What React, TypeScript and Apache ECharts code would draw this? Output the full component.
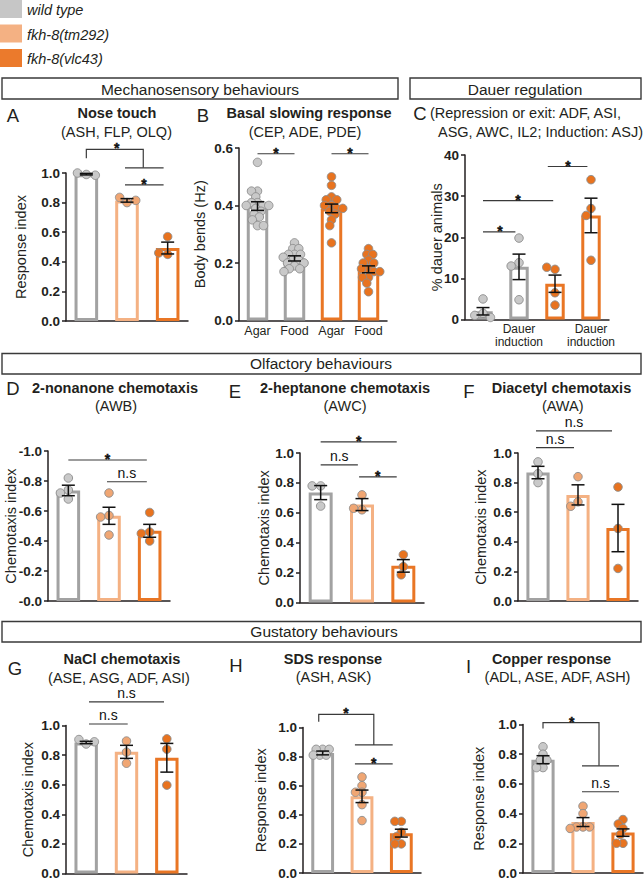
import React, { useEffect, useRef } from "react";
import * as echarts from "echarts";

const FONT = '"Liberation Sans", Arial, Helvetica, sans-serif';
const INK = "#231f20";
const SIG_INK = "#3a3a3a";

// ---------- legend ----------
const genotypeLabels = ["wild type", "fkh-8(tm292)", "fkh-8(vlc43)"];
const legendColors = ["#c6c6c6", "#f4b183", "#eb7a2c"];
const barBorderColors = ["#a2a2a2", "#f4b183", "#e97625"];
const dotColors = ["#c9c9c9", "#f0a673", "#e8731f"];

// ---------- A: Nose touch ----------
const aCategories = ["wild type", "fkh-8(tm292)", "fkh-8(vlc43)"];
const aGenotype = [0, 1, 2];
const aMeans = [0.992, 0.815, 0.493];
const aSem = [0.005, 0.012, 0.04];
const aPoints = [[0.99, 1.0, 0.985], [0.8, 0.835, 0.815], [0.57, 0.45, 0.46]];
const aSig = [
  { pts: [[0, 1.1], [0, 1.16], [1.4, 1.16], [1.4, 1.035]], label: "*", lx: 0.75, ly: 1.16 },
  { pts: [[0.95, 1.035], [1.9, 1.035]] },
  { pts: [[0.95, 0.92], [1.9, 0.92]], label: "*", lx: 1.42, ly: 0.92 },
];

// ---------- B: Basal slowing ----------
const bCategories = ["Agar", "Food", "Agar", "Food"];
const bGenotype = [0, 0, 2, 2];
const bMeans = [0.398, 0.216, 0.39, 0.178];
const bSem = [0.015, 0.009, 0.015, 0.012];
const bPoints = [
  [0.55, 0.45, 0.45, 0.43, 0.41, 0.41, 0.4, 0.4, 0.4, 0.39, 0.38, 0.37, 0.36, 0.35, 0.33, 0.33],
  [0.27, 0.25, 0.25, 0.23, 0.23, 0.23, 0.22, 0.21, 0.21, 0.2, 0.2, 0.19, 0.18, 0.18, 0.17],
  [0.5, 0.47, 0.43, 0.42, 0.42, 0.4, 0.4, 0.39, 0.39, 0.38, 0.37, 0.35, 0.33, 0.27],
  [0.25, 0.23, 0.23, 0.21, 0.2, 0.2, 0.18, 0.18, 0.17, 0.17, 0.15, 0.15, 0.13, 0.1],
];
const bSig = [
  { pts: [[0, 0.58], [1, 0.58]], label: "*", lx: 0.5, ly: 0.58 },
  { pts: [[2, 0.58], [3, 0.58]], label: "*", lx: 2.5, ly: 0.58 },
];

// ---------- C: Dauer ----------
const cCategories = ["", "Dauer\ninduction", "", "Dauer\ninduction"];
const cGenotype = [0, 0, 2, 2];
const cMeans = [2.0, 12.8, 8.7, 25.3];
const cSem = [0.9, 3.1, 2.1, 4.2];
const cPoints = [[5.0, 1.5, 1.0, 0.5], [19.8, 13.8, 13.0, 4.8], [12.2, 12.7, 6.5, 3.5], [34.0, 27.0, 25.3, 14.4]];
const cSig = [
  { pts: [[0, 21.3], [0.9, 21.3]], label: "*", lx: 0.47, ly: 21.3 },
  { pts: [[0, 28.9], [1.95, 28.9]], label: "*", lx: 0.97, ly: 28.9 },
  { pts: [[1.8, 37.2], [2.9, 37.2]], label: "*", lx: 2.36, ly: 37.2 },
];

// ---------- D: 2-nonanone ----------
const dCategories = aCategories;
const dGenotype = [0, 1, 2];
const dMeans = [-0.737, -0.568, -0.468];
const dSem = [0.035, 0.057, 0.043];
const dPoints = [[-0.82, -0.74, -0.72, -0.68], [-0.72, -0.57, -0.56, -0.44], [-0.59, -0.46, -0.45, -0.4]];
const dSig = [
  { pts: [[0, -0.94], [1.93, -0.94]], label: "*", lx: 0.96, ly: -0.94 },
  { pts: [[0.95, -0.795], [1.93, -0.795]], label: "n.s", lx: 1.44, ly: -0.795 },
];

// ---------- E: 2-heptanone ----------
const eCategories = aCategories;
const eGenotype = [0, 1, 2];
const eMeans = [0.735, 0.655, 0.245];
const eSem = [0.047, 0.04, 0.042];
const ePoints = [[0.78, 0.78, 0.645], [0.72, 0.62, 0.63], [0.32, 0.24, 0.185]];
const eSig = [
  { pts: [[0, 1.075], [1.84, 1.075]], label: "*", lx: 0.92, ly: 1.075 },
  { pts: [[0, 0.92], [0.9, 0.92]], label: "n.s", lx: 0.45, ly: 0.92 },
  { pts: [[0.93, 0.84], [1.84, 0.84]], label: "*", lx: 1.38, ly: 0.84 },
];

// ---------- F: Diacetyl ----------
const fCategories = aCategories;
const fGenotype = [0, 1, 2];
const fMeans = [0.868, 0.717, 0.493];
const fSem = [0.042, 0.068, 0.16];
const fPoints = [[0.94, 0.86, 0.8], [0.84, 0.67, 0.64], [0.77, 0.49, 0.22]];
const fSig = [
  { pts: [[-0.05, 1.15], [1.85, 1.15]], label: "n.s", lx: 0.9, ly: 1.15 },
  { pts: [[-0.05, 1.036], [0.9, 1.036]], label: "n.s", lx: 0.43, ly: 1.036 },
];

// ---------- G: NaCl ----------
const gCategories = aCategories;
const gGenotype = [0, 1, 2];
const gMeans = [0.885, 0.822, 0.782];
const gSem = [0.008, 0.044, 0.097];
const gPoints = [[0.875, 0.905, 0.89], [0.895, 0.82, 0.745], [0.91, 0.84, 0.597]];
const gSig = [
  { pts: [[0.07, 1.16], [1.93, 1.16]], label: "n.s", lx: 1.0, ly: 1.16 },
  { pts: [[0.07, 1.01], [1.03, 1.01]], label: "n.s", lx: 0.55, ly: 1.01 },
];

// ---------- H: SDS ----------
const hCategories = aCategories;
const hGenotype = [0, 1, 2];
const hMeans = [0.825, 0.527, 0.274];
const hSem = [0.013, 0.043, 0.027];
const hPoints = [
  [0.85, 0.85, 0.85, 0.81, 0.81, 0.81],
  [0.66, 0.6, 0.555, 0.555, 0.47, 0.36],
  [0.355, 0.355, 0.28, 0.25, 0.2, 0.2],
];
const hSig = [
  { pts: [[-0.1, 1.04], [-0.1, 1.09], [1.3, 1.09], [1.3, 0.88]], label: "*", lx: 0.59, ly: 1.09 },
  { pts: [[0.82, 0.88], [1.78, 0.88]] },
  { pts: [[0.82, 0.75], [1.78, 0.75]], label: "*", lx: 1.3, ly: 0.75 },
];

// ---------- I: Copper ----------
const iCategories = aCategories;
const iGenotype = [0, 1, 2];
const iMeans = [0.763, 0.343, 0.272];
const iSem = [0.027, 0.03, 0.025];
const iPoints = [
  [0.85, 0.8, 0.76, 0.76, 0.71, 0.71],
  [0.45, 0.4, 0.31, 0.31, 0.31, 0.3],
  [0.36, 0.33, 0.3, 0.26, 0.2, 0.2],
];
const iSig = [
  { pts: [[0, 0.973], [0, 1.013], [1.4, 1.013], [1.4, 0.722]], label: "*", lx: 0.72, ly: 1.013 },
  { pts: [[0.975, 0.722], [1.9, 0.722]] },
  { pts: [[0.975, 0.547], [1.9, 0.547]], label: "n.s", lx: 1.44, ly: 0.547 },
];

const fmt1 = (v: number) => (Math.abs(v) < 1e-9 ? "0.0" : v.toFixed(1));
const fmtNeg = (v: number) => (Math.abs(v) < 1e-9 ? "-0.0" : v.toFixed(1));
const fmtInt = (v: number) => String(Math.round(v));

type Sig = { pts: number[][]; label?: string; lx?: number; ly?: number };
type Panel = {
  cats: string[]; geno: number[]; means: number[]; sem: number[]; pts: number[][]; sig: Sig[];
  grid: { left: number; top: number; width: number; height: number };
  y: { min: number; max: number; interval: number; inverse?: boolean; fmt: (v: number) => string };
  yName: string; nameGap: number; barWidth: string; swarm: number;
  xLabel?: { fontSize: number; lineHeight: number; margin: number };
};

const panels: Panel[] = [
  { cats: aCategories, geno: aGenotype, means: aMeans, sem: aSem, pts: aPoints, sig: aSig,
    grid: { left: 66, top: 173, width: 122, height: 148 }, y: { min: 0, max: 1, interval: 0.2, fmt: fmt1 },
    yName: "Response index", nameGap: 38, barWidth: "58%", swarm: 9 },
  { cats: bCategories, geno: bGenotype, means: bMeans, sem: bSem, pts: bPoints, sig: bSig,
    grid: { left: 239, top: 148, width: 148, height: 172.5 }, y: { min: 0, max: 0.6, interval: 0.2, fmt: fmt1 },
    yName: "Body bends (Hz)", nameGap: 32, barWidth: "58%", swarm: 6,
    xLabel: { fontSize: 12.5, lineHeight: 14, margin: 3 } },
  { cats: cCategories, geno: cGenotype, means: cMeans, sem: cSem, pts: cPoints, sig: cSig,
    grid: { left: 465, top: 155, width: 144, height: 164.5 }, y: { min: 0, max: 40, interval: 10, fmt: fmtInt },
    yName: "% dauer animals", nameGap: 21, barWidth: "54%", swarm: 8.5,
    xLabel: { fontSize: 12, lineHeight: 13, margin: 3 } },
  { cats: dCategories, geno: dGenotype, means: dMeans, sem: dSem, pts: dPoints, sig: dSig,
    grid: { left: 48, top: 451, width: 122, height: 150 }, y: { min: -1, max: 0, interval: 0.2, inverse: true, fmt: fmtNeg },
    yName: "Chemotaxis index", nameGap: 30, barWidth: "58%", swarm: 8.5 },
  { cats: eCategories, geno: eGenotype, means: eMeans, sem: eSem, pts: ePoints, sig: eSig,
    grid: { left: 300, top: 453, width: 124, height: 149.5 }, y: { min: 0, max: 1, interval: 0.2, fmt: fmt1 },
    yName: "Chemotaxis index", nameGap: 29, barWidth: "58%", swarm: 8.5 },
  { cats: fCategories, geno: fGenotype, means: fMeans, sem: fSem, pts: fPoints, sig: fSig,
    grid: { left: 518, top: 453, width: 120, height: 148 }, y: { min: 0, max: 1, interval: 0.2, fmt: fmt1 },
    yName: "Chemotaxis index", nameGap: 30, barWidth: "58%", swarm: 8.5 },
  { cats: gCategories, geno: gGenotype, means: gMeans, sem: gSem, pts: gPoints, sig: gSig,
    grid: { left: 66, top: 725.5, width: 121, height: 148 }, y: { min: 0, max: 1, interval: 0.2, fmt: fmt1 },
    yName: "Chemotaxis index", nameGap: 31, barWidth: "58%", swarm: 8.5 },
  { cats: hCategories, geno: hGenotype, means: hMeans, sem: hSem, pts: hPoints, sig: hSig,
    grid: { left: 303, top: 727.5, width: 118, height: 145.5 }, y: { min: 0, max: 1, interval: 0.2, fmt: fmt1 },
    yName: "Response index", nameGap: 35, barWidth: "58%", swarm: 6.5 },
  { cats: iCategories, geno: iGenotype, means: iMeans, sem: iSem, pts: iPoints, sig: iSig,
    grid: { left: 523, top: 724.5, width: 120, height: 148.5 }, y: { min: 0, max: 1, interval: 0.2, fmt: fmt1 },
    yName: "Response index", nameGap: 37, barWidth: "58%", swarm: 6.5 },
];

const DOT_D = 8.5;

function beeswarm(ys: number[], d: number): number[] {
  const placed: { x: number; y: number }[] = [];
  return ys.map((y) => {
    const cands = [0];
    for (const p of placed) {
      const dy = Math.abs(p.y - y);
      if (dy < d) {
        const w = Math.sqrt(d * d - dy * dy);
        cands.push(p.x + w, p.x - w);
      }
    }
    cands.sort((a, b) => Math.abs(a) - Math.abs(b) || a - b);
    let best = 0;
    for (const c of cands) {
      if (placed.every((p) => (p.x - c) ** 2 + (p.y - y) ** 2 >= d * d - 0.01)) {
        best = c;
        break;
      }
    }
    placed.push({ x: best, y });
    return best;
  });
}

const font = (size: number, weight = "normal", style = "normal") => `${style} ${weight} ${size}px ${FONT}`;

function txt(x: number, y: number, text: string, f: string, align = "center", vAlign = "middle") {
  return {
    type: "text", x, y, silent: true,
    style: { text, font: f, fill: INK, textAlign: align, textVerticalAlign: vAlign, align, verticalAlign: vAlign },
  };
}

function box(x: number, y: number, w: number, h: number) {
  return { type: "rect", silent: true, shape: { x, y, width: w, height: h }, style: { fill: "transparent", stroke: "#3a3a3a", lineWidth: 1.4 } };
}

function buildOption() {
  const series: any[] = [];
  panels.forEach((p, idx) => {
    series.push({
      type: "bar", xAxisIndex: idx, yAxisIndex: idx, barWidth: p.barWidth, silent: true, z: 2,
      data: p.means.map((m, i) => ({
        value: m,
        itemStyle: { color: "#ffffff", borderColor: barBorderColors[p.geno[i]], borderWidth: 3 },
      })),
    });
    series.push({
      type: "custom", xAxisIndex: idx, yAxisIndex: idx, silent: true, z: 3, clip: false,
      itemStyle: { color: INK },
      data: p.means.map((m, i) => [i, m]),
      renderItem: (params: any, api: any) => {
        const i = params.dataIndex;
        const cx = api.coord([i, p.means[i]])[0];
        const ys = p.pts[i].map((v) => api.coord([i, v])[1]);
        const xs = beeswarm(ys, p.swarm);
        return {
          type: "group",
          children: ys.map((y, k) => ({
            type: "circle",
            shape: { cx: cx + xs[k], cy: y, r: DOT_D / 2 },
            style: { fill: dotColors[p.geno[i]], stroke: "#8c8c8c", lineWidth: 0.9 },
          })),
        };
      },
    });
    series.push({
      type: "custom", xAxisIndex: idx, yAxisIndex: idx, silent: true, z: 4, clip: false,
      itemStyle: { color: INK },
      data: p.means.map((m, i) => [i, m]),
      renderItem: (params: any, api: any) => {
        const i = params.dataIndex;
        const m = p.means[i];
        const s = p.sem[i];
        const t = api.coord([i, m + s]);
        const b = api.coord([i, m - s]);
        const hw = 6.5;
        const st = { stroke: "#111111", lineWidth: 1.5 };
        return {
          type: "group",
          children: [
            { type: "line", shape: { x1: t[0], y1: t[1], x2: b[0], y2: b[1] }, style: st },
            { type: "line", shape: { x1: t[0] - hw, y1: t[1], x2: t[0] + hw, y2: t[1] }, style: st },
            { type: "line", shape: { x1: b[0] - hw, y1: b[1], x2: b[0] + hw, y2: b[1] }, style: st },
          ],
        };
      },
    });
    series.push({
      type: "custom", xAxisIndex: idx, yAxisIndex: idx, silent: true, z: 5, clip: false,
      itemStyle: { color: INK },
      data: p.sig.map(() => [0, p.means[0]]),
      renderItem: (params: any, api: any) => {
        const a = p.sig[params.dataIndex];
        const c0 = api.coord([0, p.means[0]])[0];
        const c1 = api.coord([1, p.means[0]])[0];
        const px = (x: number) => c0 + x * (c1 - c0);
        const py = (y: number) => api.coord([0, y])[1];
        const children: any[] = [
          {
            type: "polyline",
            shape: { points: a.pts.map(([x, y]) => [px(x), py(y)]) },
            style: { stroke: SIG_INK, lineWidth: 1.2, fill: "none" },
          },
        ];
        if (a.label) {
          const star = a.label === "*";
          children.push({
            type: "text",
            x: px(a.lx as number),
            y: py(a.ly as number) + (star ? 6 : -2),
            style: {
              text: a.label, font: star ? font(14, "bold") : font(14), fill: "#111111",
              stroke: star ? "#111111" : undefined, lineWidth: star ? 0.4 : 0,
              align: "center", verticalAlign: "bottom",
            },
          });
        }
        return { type: "group", children };
      },
    });
  });

  const graphics: any[] = [];
  // legend
  genotypeLabels.forEach((g, k) => {
    graphics.push({ type: "rect", silent: true, shape: { x: 0, y: k * 24.5, width: 22, height: 18 }, style: { fill: legendColors[k] } });
    graphics.push(txt(27, k * 24.5 + 10, g, font(14.5, "normal", "italic"), "left"));
  });
  // section headers
  graphics.push(box(2, 78, 396, 21), txt(200, 89, "Mechanosensory behaviours", font(15.5)));
  graphics.push(box(410, 78, 231, 21), txt(525, 89, "Dauer regulation", font(15.5)));
  graphics.push(box(2, 353.5, 639, 20.5), txt(321, 363.8, "Olfactory behaviours", font(15.5)));
  graphics.push(box(2, 621.5, 639, 20.5), txt(324, 631.8, "Gustatory behaviours", font(15.5)));
  // panel letters and titles
  const letter = font(18.5);
  const ttl = font(14.5, "bold");
  const sub = font(14.5);
  graphics.push(txt(13, 115, "A", letter), txt(117, 113, "Nose touch", ttl), txt(116.5, 132, "(ASH, FLP, OLQ)", sub));
  graphics.push(txt(203, 115, "B", letter), txt(309, 113, "Basal slowing response", ttl), txt(305, 132, "(CEP, ADE, PDE)", sub));
  graphics.push(
    txt(420, 113, "C", letter),
    txt(430, 113, "(Repression or exit: ADF, ASI,", sub, "left"),
    txt(438, 131.5, "ASG, AWC, IL2; Induction: ASJ)", sub, "left"),
  );
  graphics.push(txt(13, 388, "D", letter), txt(115, 388, "2-nonanone chemotaxis", ttl), txt(116, 406, "(AWB)", sub));
  graphics.push(txt(235, 391, "E", letter), txt(345, 388, "2-heptanone chemotaxis", ttl), txt(345, 406, "(AWC)", sub));
  graphics.push(txt(469, 391, "F", letter), txt(561.5, 388, "Diacetyl chemotaxis", ttl), txt(562.7, 406, "(AWA)", sub));
  graphics.push(txt(15, 668, "G", letter), txt(122, 659, "NaCl chemotaxis", ttl), txt(119, 678, "(ASE, ASG, ADF, ASI)", sub));
  graphics.push(txt(236, 665, "H", letter), txt(333, 659, "SDS response", ttl), txt(333.5, 677, "(ASH, ASK)", sub));
  graphics.push(txt(468.5, 666.5, "I", letter), txt(551.5, 659, "Copper response", ttl), txt(557.5, 677, "(ADL, ASE, ADF, ASH)", sub));

  return {
    animation: false,
    backgroundColor: "#ffffff",
    textStyle: { fontFamily: FONT },
    grid: panels.map((p) => ({ ...p.grid, containLabel: false, outerBoundsMode: "none" })),
    xAxis: panels.map((p, i) => ({
      type: "category", gridIndex: i, data: p.cats, boundaryGap: true,
      axisLine: { show: true, onZero: false, lineStyle: { color: INK, width: 1.5 } },
      axisTick: { show: false },
      axisLabel: p.xLabel
        ? { show: true, interval: 0, color: INK, fontFamily: FONT, fontSize: p.xLabel.fontSize, lineHeight: p.xLabel.lineHeight, margin: p.xLabel.margin }
        : { show: false },
      splitLine: { show: false },
    })),
    yAxis: panels.map((p, i) => ({
      type: "value", gridIndex: i, min: p.y.min, max: p.y.max, interval: p.y.interval, inverse: !!p.y.inverse,
      axisLine: { show: true, lineStyle: { color: INK, width: 1.5 } },
      axisTick: { show: true, length: 4, lineStyle: { color: INK, width: 1.5 } },
      axisLabel: { color: INK, fontFamily: FONT, fontSize: 13.5, fontWeight: "bold", margin: 6, formatter: p.y.fmt },
      splitLine: { show: false },
      name: p.yName, nameLocation: "middle", nameGap: p.nameGap, nameRotate: 90, nameMoveOverlap: false,
      nameTextStyle: { color: INK, fontFamily: FONT, fontSize: 14.5 },
    })),
    series,
    graphic: { elements: graphics },
  };
}

export default function App() {
  const ref = useRef<HTMLDivElement>(null);
  useEffect(() => {
    document.body.style.margin = "0";
    const chart = echarts.init(ref.current as HTMLDivElement, undefined, { renderer: "svg", width: 644, height: 880 });
    chart.setOption(buildOption() as any);
    return () => chart.dispose();
  }, []);
  return <div ref={ref} style={{ width: 644, height: 880 }} />;
}
